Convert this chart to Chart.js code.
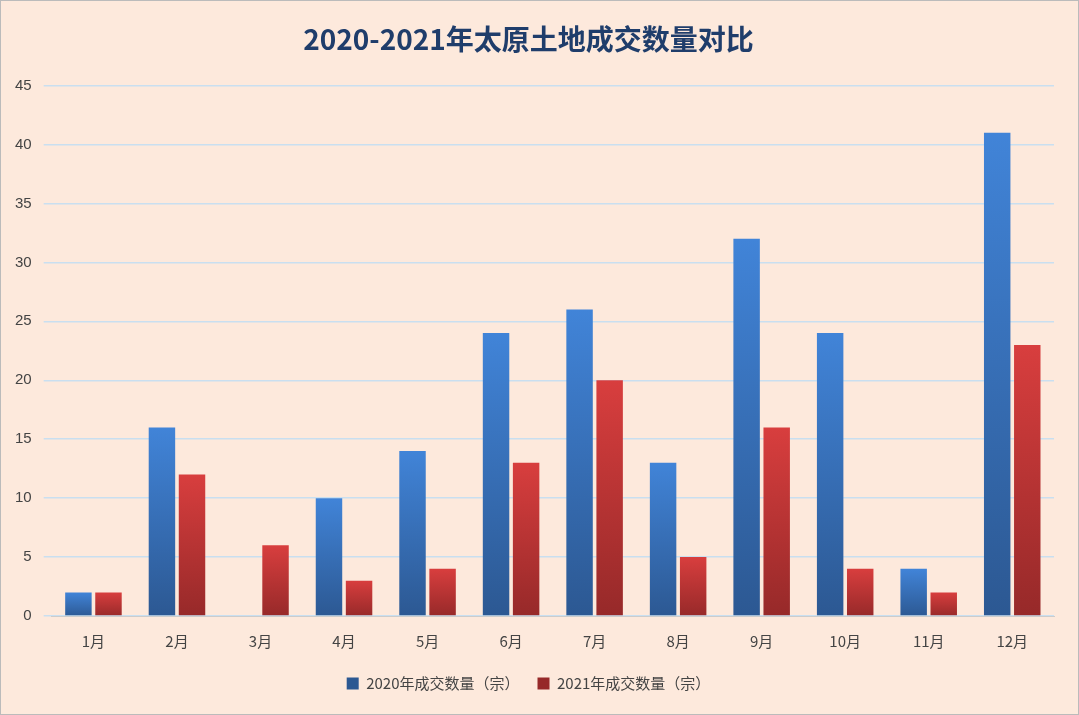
<!DOCTYPE html>
<html><head><meta charset="utf-8">
<script src="https://cdn.jsdelivr.net/npm/chart.js@4"></script>
<style>html,body{margin:0;padding:0;background:#fde9dc;}#w{width:1077px;height:713px;border:1px solid #bbb;position:relative;background:#fde9dc;}</style>
</head><body><div id="w"><canvas id="c"></canvas></div>
<script>
const categories=['1月','2月','3月','4月','5月','6月','7月','8月','9月','10月','11月','12月'];
const series2020=[2,16,0,10,14,24,26,13,32,24,4,41];
const series2021=[2,12,6,3,4,13,20,5,16,4,2,23];
const yTicks=[0,5,10,15,20,25,30,35,40,45];
function grad(top,bot){return ctx=>{const a=ctx.chart.chartArea;const y=ctx.chart.scales.y;if(!a||!y||ctx.raw==null)return top;const t=y.getPixelForValue(ctx.raw);const g=ctx.chart.ctx.createLinearGradient(0,t,0,a.bottom+1);g.addColorStop(0,top);g.addColorStop(1,bot);return g;};}
new Chart(document.getElementById('c'),{type:'bar',
data:{labels:categories,datasets:[
{label:'2020年成交数量（宗）',data:series2020,backgroundColor:grad('#4184d8','#2c5892'),categoryPercentage:0.72,barPercentage:0.88},
{label:'2021年成交数量（宗）',data:series2021,backgroundColor:grad('#d83e3e','#962929'),categoryPercentage:0.72,barPercentage:0.88}]},
options:{responsive:true,maintainAspectRatio:false,animation:false,
layout:{padding:{left:2,right:24,top:10,bottom:13}},
plugins:{title:{display:true,text:'2020-2021年太原土地成交数量对比',color:'#1f3d6b',font:{size:28,weight:'bold',family:'Noto Sans CJK SC'},padding:{top:12,bottom:29}},
legend:{position:'bottom',labels:{boxWidth:12,boxHeight:12,padding:18,color:'#444',font:{size:15,family:'Noto Sans CJK SC'}}},tooltip:{enabled:false}},
scales:{x:{grid:{display:false},border:{color:'#ccc'},ticks:{color:'#444',padding:8,font:{size:15,family:'Noto Sans CJK SC'}}},
y:{min:0,max:45,afterBuildTicks:ax=>{ax.ticks=yTicks.map(v=>({value:v}));},grid:{color:'#c9dff0',lineWidth:1.5},border:{display:false},ticks:{color:'#444',font:{size:15},padding:12}}}}});
</script></body></html>
